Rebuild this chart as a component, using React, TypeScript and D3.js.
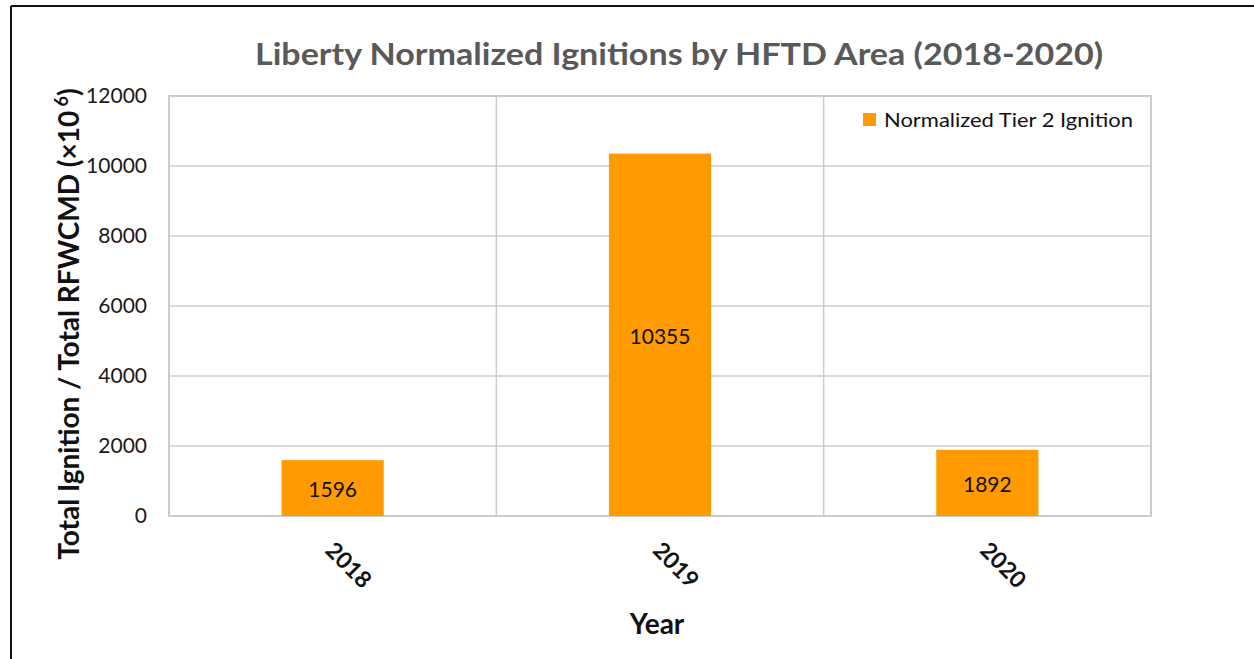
import React, { useEffect } from 'react';
import * as d3 from 'd3';

// chart data
const years = ['2018', '2019', '2020'];
const tier2Values = [1596, 10355, 1892];
const yTicks = [0, 2000, 4000, 6000, 8000, 10000, 12000];

const chartTitle = 'Liberty Normalized Ignitions by HFTD Area (2018-2020)';
const seriesName = 'Normalized Tier 2 Ignition';
const xTitle = 'Year';

const W = 1254, H = 659;
const plot = { left: 169, right: 1151, top: 96, bottom: 516 };
const FONT = 'Lato, "Open Sans", sans-serif';
const BAR = '#ff9a00';
const GRID = '#cccccc';

export default function App() {
	useEffect(() => {
		document.body.style.margin = '0';
	}, []);

	const x = d3.scaleBand<string>()
	            .domain(years)
	            .range([plot.left, plot.right])
	            .padding(0);

	const y = d3.scaleLinear()
	            .domain([0, 12000])
	            .range([plot.bottom, plot.top]);

	const barW = x.bandwidth() * 0.312;

	return (
		<svg width={W} height={H} style={{ display: 'block', background: '#fff' }} fontFamily={FONT}>
			{/* frame of the surrounding document box */}
			<line x1={11} y1={6} x2={W} y2={6} stroke="#111" strokeWidth={2} />
			<line x1={11} y1={6} x2={11} y2={H} stroke="#111" strokeWidth={2} />

			<text x={679} y={65} textAnchor="middle" fontSize={31} fontWeight="bold" fill="#595959"
			      textLength={848} lengthAdjust="spacingAndGlyphs">{chartTitle}</text>

			{/* horizontal grid + y ticks */}
			{yTicks.map(t =>
				<g key={t}>
					<line x1={plot.left} x2={plot.right} y1={y(t)} y2={y(t)} stroke={GRID} strokeWidth={1.5} />
					<text x={147} y={y(t)} dy="0.35em" textAnchor="end" fontSize={21} fill="#1a1a1a">{t}</text>
				</g>
			)}

			{/* category separators and plot border */}
			{years.slice(1).map(c =>
				<line key={c} x1={x(c)} x2={x(c)} y1={plot.top} y2={plot.bottom} stroke={GRID} strokeWidth={1.5} />
			)}
			<rect x={plot.left} y={plot.top} width={plot.right - plot.left} height={plot.bottom - plot.top}
			      fill="none" stroke={GRID} strokeWidth={2} />

			{/* bars */}
			{years.map((c, i) => {
				const cx = x(c)! + x.bandwidth() / 2;
				const v = tier2Values[i];
				return (
					<g key={c}>
						<rect x={cx - barW / 2} y={y(v)} width={barW} height={y(0) - y(v)} fill={BAR} />
						<text x={cx} y={(y(v) + y(0)) / 2 + 2} dy="0.35em" textAnchor="middle" fontSize={21} fill="#111">{v}</text>
						<text transform={`translate(${cx + 16},${565}) rotate(45)`} textAnchor="middle" dy="0.35em"
						      fontSize={23} fontWeight="bold" fill="#111">{c}</text>
					</g>
				);
			})}

			{/* legend */}
			<rect x={863} y={113} width={13} height={13} fill={BAR} />
			<text x={884} y={127} fontSize={20} fill="#111" textLength={249} lengthAdjust="spacingAndGlyphs">{seriesName}</text>

			{/* axis titles */}
			<text x={657} y={634} textAnchor="middle" fontSize={28} fontWeight="bold" fill="#111">{xTitle}</text>
			<text transform="translate(79,324) rotate(-90)" textAnchor="middle" fontSize={28} fontWeight="bold" fill="#111">
				Total Ignition / Total RFWCMD (×10
				<tspan fontSize={18} dy={-11}> 6</tspan>
				<tspan dy={11}>)</tspan>
			</text>
		</svg>
	);
}
